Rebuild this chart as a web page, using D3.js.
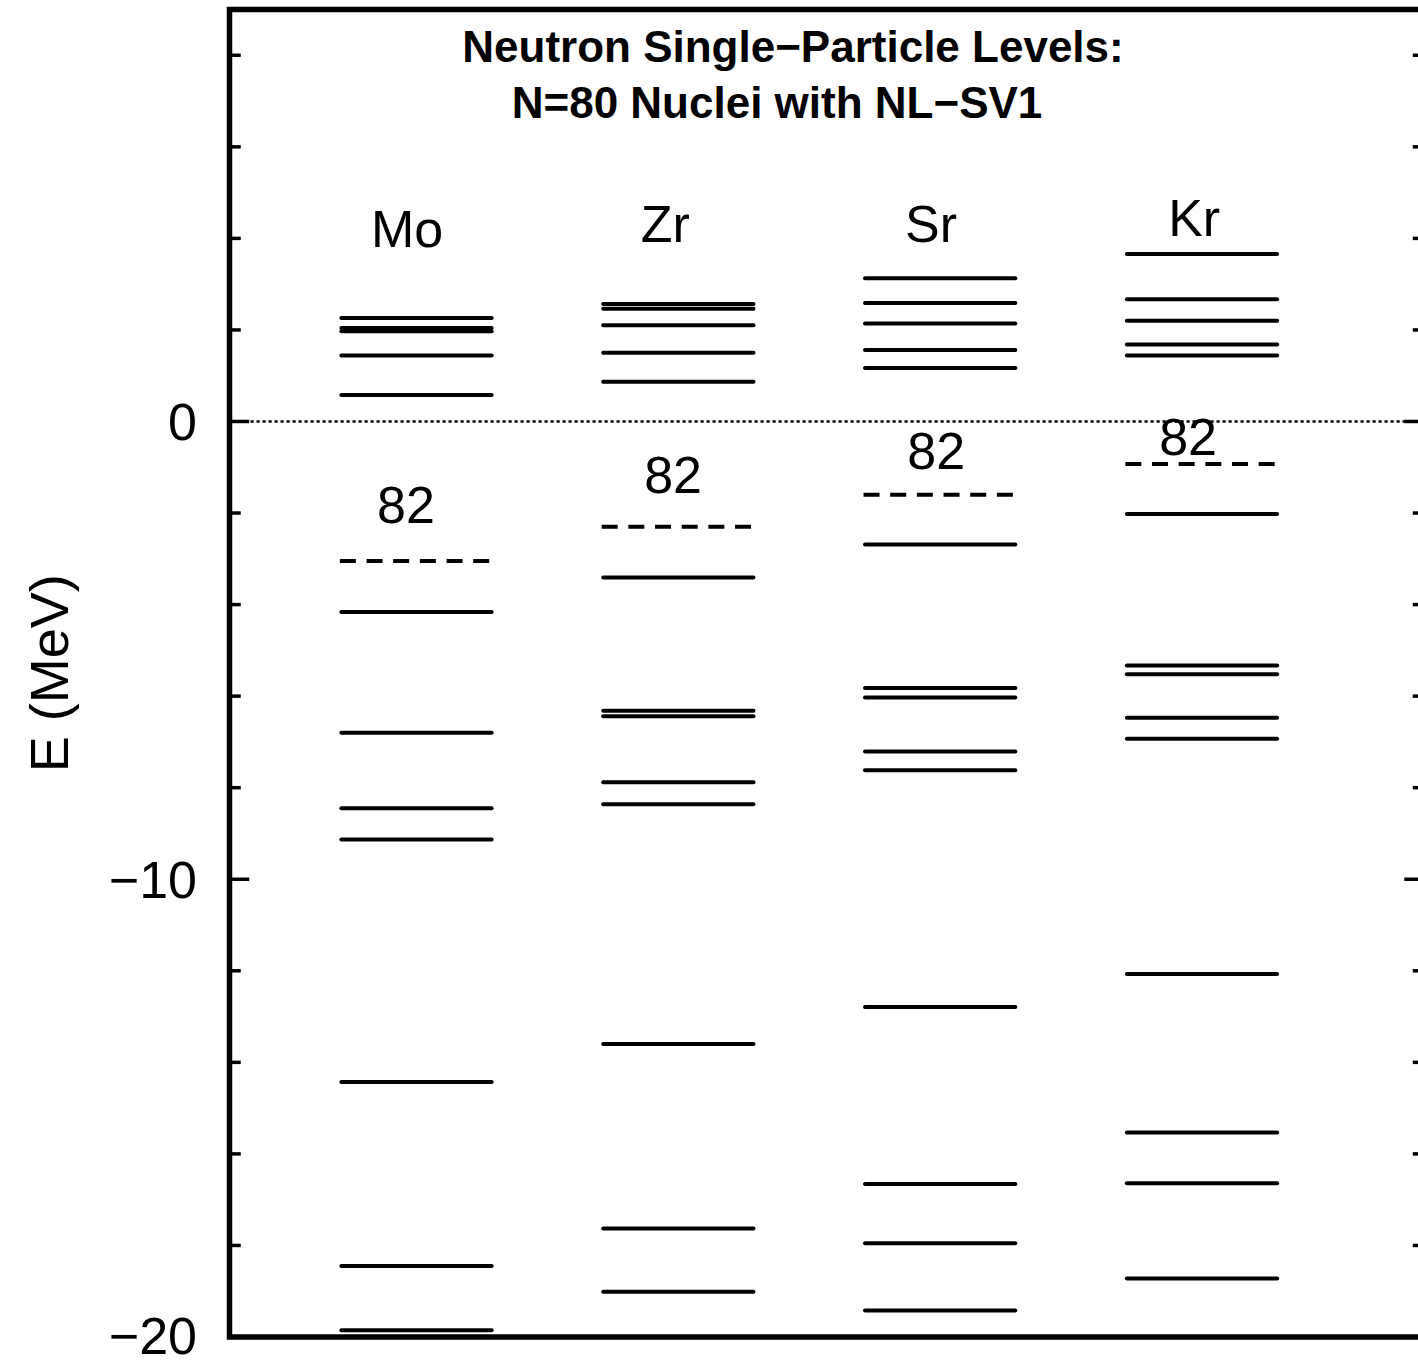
<!DOCTYPE html>
<html>
<head>
<meta charset="utf-8">
<script src="https://cdn.jsdelivr.net/npm/d3@7"></script>
<style>
  html, body { margin: 0; padding: 0; background: #fff; }
  svg { display: block; }
  text { font-family: "Liberation Sans", Arial, Helvetica, sans-serif; fill: #000; }
</style>
</head>
<body>
<svg id="chart" width="1418" height="1361"></svg>
<script>
// ---- data (energies in MeV) ----
const nuclei = ["Mo", "Zr", "Sr", "Kr"];
const levelsMo = [2.26, 2.04, 1.97, 1.44, 0.58, -4.16, -6.80, -8.45, -9.13, -14.43, -18.45, -19.85];
const levelsZr = [2.565, 2.46, 2.10, 1.50, 0.87, -3.41, -6.32, -6.44, -7.88, -8.36, -13.60, -17.63, -19.01];
const levelsSr = [3.13, 2.59, 2.14, 1.56, 1.17, -2.69, -5.82, -6.03, -7.21, -7.62, -12.79, -16.66, -17.95, -19.42];
const levelsKr = [3.66, 2.67, 2.20, 1.68, 1.44, -2.02, -5.33, -5.52, -6.47, -6.93, -12.07, -15.53, -16.64, -18.72];
const dashedLevels = [-3.05, -2.30, -1.60, -0.93];   // N=82 gap marker level
const magicLabel = "82";
const magicLabelE = [-2.21, -1.56, -1.03, -0.73];
const nameLabelE = [3.81, 3.93, 3.93, 4.06];
const yTicks = [-18, -16, -14, -12, -10, -8, -6, -4, -2, 0, 2, 4, 6, 8];
const yMajorTicks = [-20, -10, 0];
const titleLines = ["Neutron Single\u2212Particle Levels:", "N=80 Nuclei with NL\u2212SV1"];
const yAxisTitle = "E (MeV)";

const levelSets = [levelsMo, levelsZr, levelsSr, levelsKr];

// ---- layout ----
const svg = d3.select("#chart");
const frame = { left: 229.5, right: 1424, top: 9.5, bottom: 1337 };

const y = d3.scaleLinear().domain([-20, 9]).range([frame.bottom, frame.top]);
// columns at positions 1..4
const x = d3.scaleLinear().domain([1, 4]).range([416.5, 1202]);
const halfW = 0.287;

const minus = s => String(s).replace("-", "\u2212");

// zero line (dotted)
svg.append("line")
  .attr("x1", frame.left + 3).attr("x2", frame.right)
  .attr("y1", y(0)).attr("y2", y(0))
  .attr("stroke", "#000").attr("stroke-width", 2.6)
  .attr("stroke-dasharray", "3.2 2.8");

// levels
const g = svg.append("g");
levelSets.forEach((lv, i) => {
  g.selectAll(null).data(lv).enter().append("line")
    .attr("x1", x(i + 1 - halfW)).attr("x2", x(i + 1 + halfW))
    .attr("y1", d => y(d)).attr("y2", d => y(d))
    .attr("stroke", "#000").attr("stroke-width", 4)
    .attr("stroke-linecap", "round");
});

// dashed levels
g.selectAll(null).data(dashedLevels).enter().append("line")
  .attr("x1", (d, i) => x(i + 1 - halfW) - 1.5).attr("x2", (d, i) => x(i + 1 + halfW) + 1.5)
  .attr("y1", d => y(d)).attr("y2", d => y(d))
  .attr("stroke", "#000").attr("stroke-width", 4)
  .attr("stroke-dasharray", "16 10.67");

// "82" labels
const magicDx = [-0.04, -0.02, -0.015, -0.053];
svg.selectAll(null).data(magicLabelE).enter().append("text")
  .attr("x", (d, i) => x(i + 1 + magicDx[i]))
  .attr("y", d => y(d))
  .attr("text-anchor", "middle")
  .attr("font-size", 52)
  .text(magicLabel);

// nucleus names
const nameDx = [-0.036, -0.05, -0.035, -0.03];
svg.selectAll(null).data(nuclei).enter().append("text")
  .attr("x", (d, i) => x(i + 1 + nameDx[i]))
  .attr("y", (d, i) => y(nameLabelE[i]))
  .attr("text-anchor", "middle")
  .attr("font-size", 52)
  .text(d => d);

// title
svg.append("text").attr("x", 793).attr("y", 62)
  .attr("text-anchor", "middle").attr("font-size", 44).attr("font-weight", "bold")
  .text(titleLines[0]);
svg.append("text").attr("x", 777).attr("y", 118)
  .attr("text-anchor", "middle").attr("font-size", 44).attr("font-weight", "bold")
  .text(titleLines[1]);

// ticks: left and right, pointing inward
const bw = 5.5;
const inL = frame.left + bw / 2, inR = frame.right - bw / 2;
const tickLen = d => (yMajorTicks.includes(d) ? 17 : 8.5);
svg.selectAll(null).data(yTicks).enter().append("line")
  .attr("x1", inL - 1).attr("x2", d => inL + tickLen(d))
  .attr("y1", d => y(d)).attr("y2", d => y(d))
  .attr("stroke", "#000").attr("stroke-width", 3.5);
svg.selectAll(null).data(yTicks).enter().append("line")
  .attr("x1", inR + 1).attr("x2", d => inR - tickLen(d))
  .attr("y1", d => y(d)).attr("y2", d => y(d))
  .attr("stroke", "#000").attr("stroke-width", 3.5);

// tick labels
svg.selectAll(null).data(yMajorTicks).enter().append("text")
  .attr("x", 197)
  .attr("y", d => y(d))
  .attr("dy", d => d === -20 ? "0.33em" : "0.36em")
  .attr("text-anchor", "end")
  .attr("font-size", 52)
  .text(d => minus(d));

// axis title
svg.append("text")
  .attr("transform", `translate(68, ${y(-5.5)}) rotate(-90)`)
  .attr("text-anchor", "middle")
  .attr("font-size", 54)
  .text(yAxisTitle);

// frame
svg.append("rect")
  .attr("x", frame.left).attr("y", frame.top)
  .attr("width", frame.right - frame.left).attr("height", frame.bottom - frame.top)
  .attr("fill", "none").attr("stroke", "#000").attr("stroke-width", bw);
</script>
</body>
</html>
